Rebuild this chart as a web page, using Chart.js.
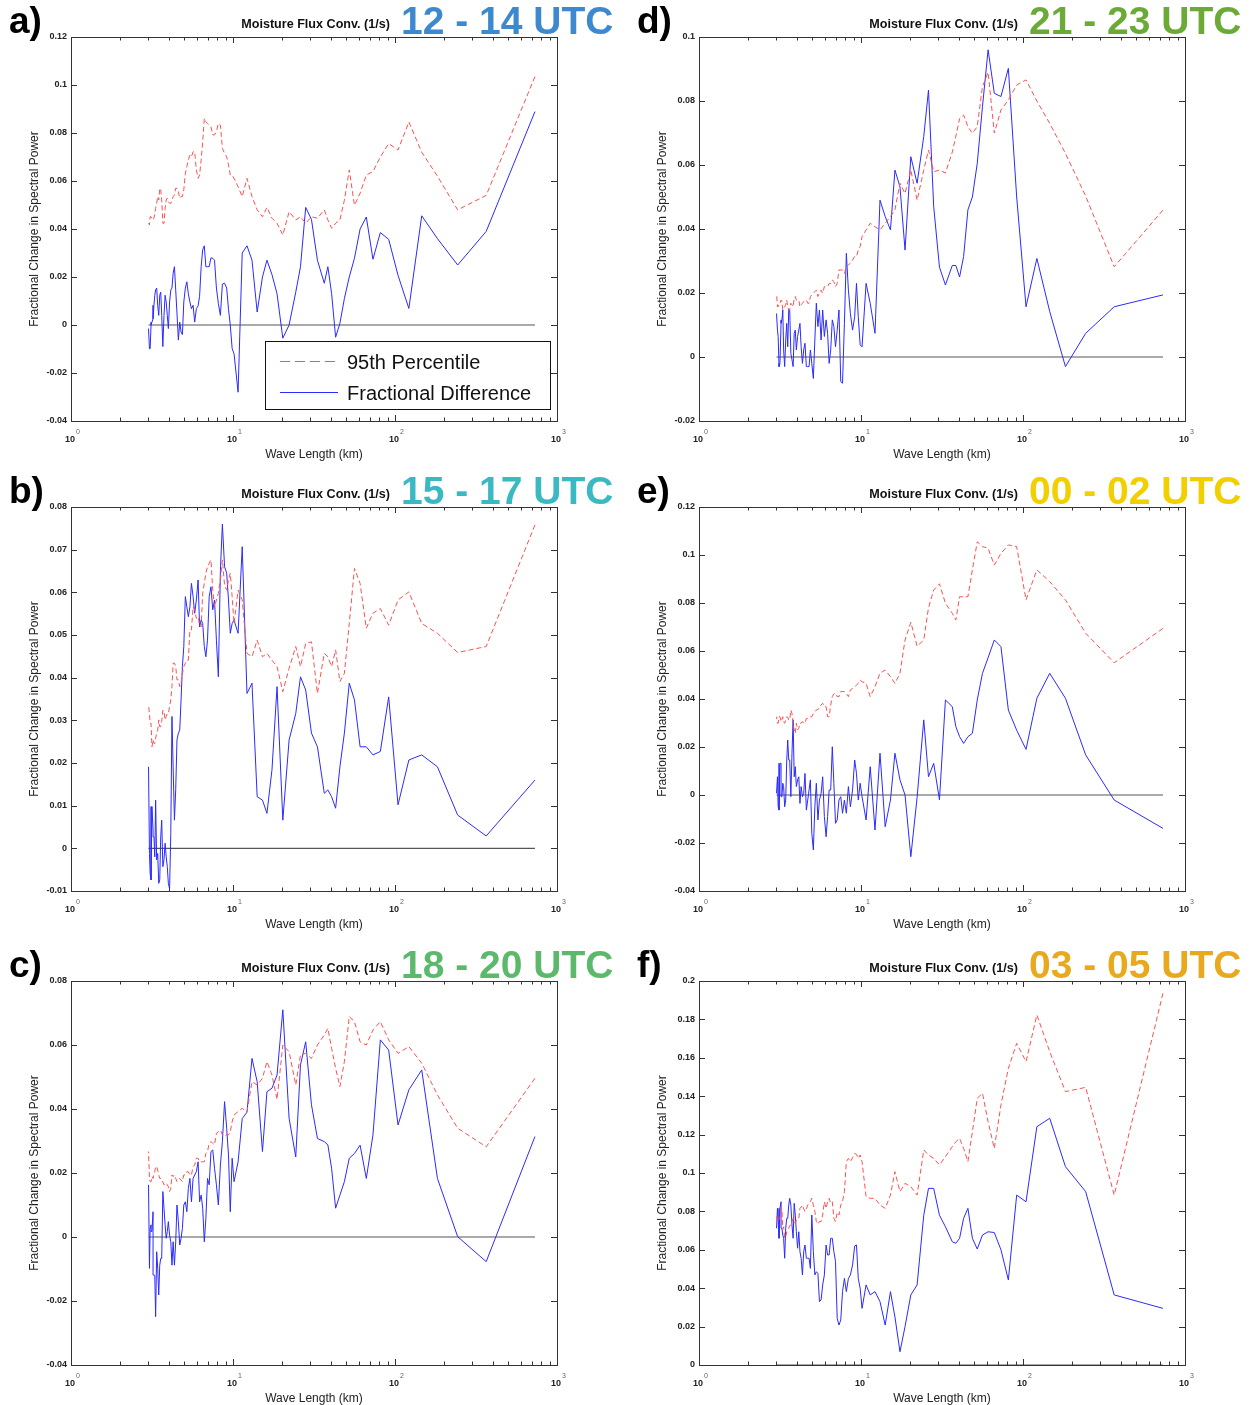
<!DOCTYPE html>
<html>
<head>
<meta charset="utf-8">
<title>Moisture Flux Conv. spectra</title>
<script src="https://cdn.jsdelivr.net/npm/chart.js@4.4.1/dist/chart.umd.min.js"></script>
<style>
    body { margin: 0; background: #fff; }
    #figure { position: relative; width: 1258px; height: 1405px; }
    #figure canvas { position: absolute; }
</style>
</head>
<body>
<div id="figure">
    <canvas id="panelA" width="629" height="470" style="left:0;top:0"></canvas>
    <canvas id="panelD" width="629" height="470" style="left:629px;top:0"></canvas>
    <canvas id="panelB" width="629" height="474" style="left:0;top:470px"></canvas>
    <canvas id="panelE" width="629" height="474" style="left:629px;top:470px"></canvas>
    <canvas id="panelC" width="629" height="461" style="left:0;top:944px"></canvas>
    <canvas id="panelF" width="629" height="461" style="left:629px;top:944px"></canvas>
</div>
<script>
// wave lengths (km), longest first
const waveLength = [731, 365.5, 243.7, 182.8, 146.2, 121.8, 104.4, 91.4, 81.2, 73.1,
    66.5, 60.9, 56.2, 52.2, 48.7, 45.7, 43.0, 40.6, 38.5, 36.6,
    33.2, 30.5, 28.1, 26.1, 24.4, 22.2, 20.3, 18.7, 17.4, 16.2,
    15.2, 14.1, 13.1, 12.2, 11.4, 10.75, 10.15, 9.62, 9.14, 8.6,
    8.12, 7.69, 7.31, 6.96, 6.65, 6.36, 6.09, 5.80, 5.54, 5.30,
    5.08, 4.87, 4.69, 4.51, 4.35, 4.20, 4.06, 3.93, 3.81, 3.69,
    3.58, 3.48, 3.38, 3.29, 3.21, 3.12, 3.05, 3.01];

// extra short wave lengths (km) in between, where the spectra are dense
const waveLengthFine = [9.88, 9.38, 8.87, 8.36, 7.9, 7.5, 7.13, 6.8, 6.5, 6.22,
    5.94, 5.67, 5.42, 5.19, 4.97, 4.78, 4.60, 4.43, 4.27, 4.13,
    3.99, 3.87, 3.75, 3.63, 3.53, 3.43, 3.33, 3.25, 3.16, 3.08];

// 12 - 14 UTC
const pct95A = [0.1035, 0.054, 0.048, 0.062, 0.072, 0.0846, 0.0729, 0.0756, 0.070, 0.0639,
    0.0625, 0.0549, 0.0499, 0.0646, 0.052, 0.0438, 0.0424, 0.0403, 0.0438, 0.048,
    0.0445, 0.0451, 0.0424, 0.0451, 0.0438, 0.0472, 0.0375, 0.0424, 0.0445, 0.049,
    0.0451, 0.048, 0.0535, 0.0611, 0.0535, 0.0576, 0.0611, 0.0625, 0.0701, 0.0736,
    0.084, 0.0792, 0.0826, 0.084, 0.0861, 0.0688, 0.0611, 0.0722, 0.0701, 0.0688,
    0.0632, 0.0535, 0.0528, 0.057, 0.0542, 0.0521, 0.0507, 0.0528, 0.0486, 0.0424,
    0.0563, 0.0521, 0.0507, 0.0465, 0.0438, 0.0451, 0.0417, 0.0424];
const pct95AFine = [0.0625, 0.0667, 0.0715, 0.0833, 0.0806, 0.0792, 0.0833, 0.0847, 0.0763, 0.0625,
    0.0646, 0.0722, 0.0708, 0.066, 0.0563, 0.0535, 0.0556, 0.057, 0.0535, 0.0507,
    0.0514, 0.0521, 0.0424, 0.0521, 0.057, 0.0535, 0.0486, 0.0445, 0.0445, 0.0451];
const diffA = [0.0889, 0.039, 0.025, 0.036, 0.0455, 0.0069, 0.0207, 0.0357, 0.0385, 0.0274,
    0.045, 0.040, 0.0278, 0.020, 0.011, 0.0007, -0.0051, 0.0132, 0.0243, 0.0174,
    0.027, 0.044, 0.049, 0.0243, 0.0137, 0.0, -0.0055, 0.013, 0.021, 0.027,
    0.020, 0.0054, 0.027, 0.033, 0.030, -0.028, -0.012, 0.0, 0.0154, 0.017,
    0.009, 0.027, 0.028, 0.0243, 0.033, 0.0243, 0.008, 0.0012, 0.0068, 0.013,
    0.0154, -0.004, 0.0012, 0.0049, 0.0243, 0.0154, 0.0096, 0.004, 0.0124, -0.009,
    0.0137, 0.004, 0.0154, 0.0124, 0.0026, 0.0, -0.0099, -0.0015];
const diffAFine = [-0.0098, 0.0066, 0.0174, 0.004, 0.0154, 0.0278, 0.0243, 0.0243, 0.0313, 0.012,
    0.0068, 0.0082, 0.0096, 0.018, 0.0096, -0.0029, -0.0063, 0.0146, 0.0215, 0.0146,
    -0.0015, 0.0096, 0.004, 0.004, 0.0124, 0.0082, 0.0146, 0.0082, 0.0012, -0.0099];

// 15 - 17 UTC
const pct95B = [0.0758, 0.0473, 0.0459, 0.0504, 0.0527, 0.0601, 0.0582, 0.0523, 0.0562, 0.0551,
    0.0516, 0.0621, 0.0656, 0.0527, 0.041, 0.0391, 0.0465, 0.0426, 0.0449, 0.0457,
    0.0363, 0.0484, 0.048, 0.0426, 0.0473, 0.0422, 0.0367, 0.0426, 0.0441, 0.0457,
    0.0449, 0.0488, 0.0449, 0.0457, 0.0582, 0.0605, 0.0527, 0.0645, 0.0605, 0.0676,
    0.0598, 0.0566, 0.0676, 0.066, 0.0621, 0.0519, 0.0543, 0.0559, 0.0512, 0.0441,
    0.0434, 0.041, 0.0379, 0.0395, 0.0434, 0.0379, 0.0332, 0.0316, 0.0301, 0.0324,
    0.0285, 0.0301, 0.027, 0.0246, 0.0254, 0.0293, 0.0316, 0.0336];
const pct95BFine = [0.059, 0.0629, 0.0617, 0.0629, 0.0582, 0.0605, 0.0668, 0.0645, 0.0598, 0.0523,
    0.0539, 0.0566, 0.0512, 0.0441, 0.0426, 0.0387, 0.0395, 0.0426, 0.0434, 0.0348,
    0.0316, 0.0309, 0.032, 0.0297, 0.0285, 0.0277, 0.0258, 0.0246, 0.0238, 0.0293];
const diffB = [0.016, 0.0029, 0.0078, 0.0191, 0.0219, 0.0207, 0.0102, 0.0355, 0.0227, 0.0219,
    0.0238, 0.0238, 0.0348, 0.0387, 0.027, 0.0191, 0.0094, 0.0121, 0.0137, 0.0129,
    0.0238, 0.027, 0.0371, 0.0402, 0.0316, 0.0254, 0.0066, 0.0379, 0.0184, 0.0082,
    0.0113, 0.0121, 0.0387, 0.0363, 0.0707, 0.0504, 0.0535, 0.0504, 0.0645, 0.076,
    0.0402, 0.0582, 0.0613, 0.0488, 0.0473, 0.0535, 0.0629, 0.0551, 0.0621, 0.0543,
    0.059, 0.0426, 0.0277, 0.0254, 0.0066, 0.0309, -0.0095, -0.0043, 0.0012, -0.0043,
    0.0027, -0.0082, -0.0027, -0.002, 0.0043, -0.0074, -0.0012, 0.0191];
const diffBFine = [0.0527, 0.0582, 0.066, 0.0652, 0.0488, 0.0559, 0.059, 0.0449, 0.0527, 0.0519,
    0.0582, 0.059, 0.0566, 0.0566, 0.0473, 0.0348, 0.027, 0.0137, 0.0191, 0.0035,
    -0.0082, -0.002, -0.0027, 0.0066, -0.0074, -0.0012, 0.0113, 0.0027, 0.0098, -0.0059];

// 18 - 20 UTC
const pct95C = [0.0496, 0.0282, 0.034, 0.0444, 0.0543, 0.0595, 0.0574, 0.0616, 0.0673, 0.0647,
    0.06, 0.061, 0.0673, 0.0689, 0.0548, 0.047, 0.0527, 0.059, 0.0652, 0.0631,
    0.06, 0.0558, 0.0574, 0.0569, 0.0475, 0.0579, 0.06, 0.043, 0.0506, 0.0548,
    0.0496, 0.0475, 0.0485, 0.0392, 0.0402, 0.0392, 0.0381, 0.0329, 0.0319, 0.0319,
    0.0329, 0.0288, 0.0298, 0.0267, 0.0235, 0.0235, 0.0246, 0.0225, 0.0194, 0.0204,
    0.0194, 0.0173, 0.0183, 0.0173, 0.0194, 0.0194, 0.0142, 0.0163, 0.0163, 0.0173,
    0.0183, 0.0194, 0.022, 0.0204, 0.0183, 0.0173, 0.0183, 0.0267];
const pct95CFine = [0.036, 0.0319, 0.0314, 0.0334, 0.0324, 0.0293, 0.0293, 0.0261, 0.0235, 0.0235,
    0.0246, 0.022, 0.0194, 0.0204, 0.0194, 0.0178, 0.0178, 0.0183, 0.0189, 0.0152,
    0.0157, 0.0168, 0.0163, 0.0173, 0.0183, 0.0209, 0.022, 0.0199, 0.0189, 0.0173];
const diffC = [0.0314, -0.0077, 0.0001, 0.0183, 0.0522, 0.046, 0.035, 0.0584, 0.0616, 0.0319,
    0.0183, 0.0287, 0.0261, 0.0246, 0.0173, 0.0131, 0.009, 0.0215, 0.0288, 0.0298,
    0.0308, 0.0413, 0.061, 0.0538, 0.025, 0.0371, 0.071, 0.0506, 0.0465, 0.0454,
    0.0267, 0.0485, 0.0558, 0.039, 0.037, 0.0235, 0.0173, 0.0079, 0.034, 0.0298,
    0.01, 0.0215, 0.0267, 0.0183, -0.0015, 0.0131, 0.0235, 0.0194, 0.011, 0.0152,
    0.011, 0.0027, -0.0025, 0.01, -0.0088, -0.0088, 0.0006, 0.0017, 0.0038, 0.0142,
    -0.0067, -0.0181, -0.0046, -0.012, 0.0079, 0.0038, -0.0098, 0.0163];
const diffCFine = [0.0246, 0.0256, 0.0423, 0.0225, 0.0163, 0.0272, 0.0163, 0.0058, 0.009, 0.011,
    0.0204, 0.0183, 0.0183, 0.0079, 0.01, -0.0004, 0.0048, -0.0015, -0.0015, -0.0015,
    0.0048, -0.0004, 0.009, -0.0067, -0.0088, -0.0098, -0.0249, -0.0119, 0.0017, 0.0027];

// 21 - 23 UTC
const pct95D = [0.0459, 0.0282, 0.0503, 0.0636, 0.073, 0.080, 0.0866, 0.085, 0.0803, 0.0772,
    0.070, 0.089, 0.0845, 0.072, 0.0699, 0.072, 0.0756, 0.0745, 0.069, 0.064,
    0.0575, 0.0584, 0.0579, 0.0647, 0.0584, 0.049, 0.0584, 0.0511, 0.0543, 0.046,
    0.0439, 0.0418, 0.0397, 0.0407, 0.0418, 0.0397, 0.0376, 0.0334, 0.0314, 0.0293,
    0.0282, 0.0272, 0.0272, 0.022, 0.0241, 0.023, 0.022, 0.0199, 0.0199, 0.0209,
    0.0199, 0.0189, 0.0168, 0.0178, 0.0168, 0.0157, 0.0178, 0.0189, 0.0157, 0.0168,
    0.0147, 0.0178, 0.0157, 0.0147, 0.0178, 0.0168, 0.0157, 0.0199];
const pct95DFine = [0.0345, 0.0314, 0.0303, 0.0288, 0.0261, 0.0272, 0.023, 0.0235, 0.023, 0.022,
    0.022, 0.0209, 0.0189, 0.0204, 0.0194, 0.0168, 0.0178, 0.0173, 0.0163, 0.0178,
    0.0178, 0.0183, 0.0163, 0.0147, 0.0157, 0.0163, 0.0152, 0.0173, 0.0168, 0.0157];
const diffD = [0.0194, 0.0157, 0.0074, -0.003, 0.0142, 0.0308, 0.0157, 0.05, 0.0902, 0.0814,
    0.0824, 0.096, 0.0782, 0.0605, 0.05, 0.046, 0.0314, 0.025, 0.0286, 0.0286,
    0.0225, 0.0281, 0.047, 0.0834, 0.0689, 0.0543, 0.0626, 0.0334, 0.0532, 0.0584,
    0.0397, 0.0439, 0.049, 0.0074, 0.0168, 0.023, 0.0032, 0.0126, 0.0126, 0.0136,
    0.0324, -0.0082, 0.0147, 0.0032, 0.0116, -0.002, 0.0116, 0.0147, 0.0147, 0.0168,
    -0.0067, 0.0022, -0.003, 0.0043, -0.002, 0.0105, 0.0064, 0.0084, -0.003, 0.0011,
    0.0147, 0.0105, -0.003, 0.0147, 0.0105, -0.003, 0.0084, 0.0136];
const diffDFine = [0.0038, 0.023, 0.0084, 0.0209, 0.0105, -0.0077, 0.0084, 0.0095, 0.0022, 0.0074,
    0.0064, 0.0053, 0.0095, 0.0053, -0.002, -0.003, -0.003, 0.0022, 0.0032, 0.0084,
    0.0022, 0.0074, -0.0009, 0.0147, 0.0032, 0.0053, 0.0022, 0.0116, -0.002, 0.0064];

// 00 - 02 UTC
const pct95E = [0.0694, 0.0551, 0.0674, 0.0813, 0.0889, 0.0938, 0.0813, 0.1035, 0.1042, 0.1007,
    0.0958, 0.1028, 0.1035, 0.1055, 0.0938, 0.0826, 0.0826, 0.0826, 0.0729, 0.0757,
    0.0799, 0.088, 0.0854, 0.078, 0.0646, 0.062, 0.072, 0.0646, 0.0507, 0.0465,
    0.0493, 0.0521, 0.0507, 0.0451, 0.041, 0.0465, 0.0472, 0.0465, 0.0451, 0.0438,
    0.0424, 0.0431, 0.041, 0.0424, 0.041, 0.0326, 0.0368, 0.0382, 0.0361, 0.0354,
    0.034, 0.0326, 0.0319, 0.0299, 0.0306, 0.0299, 0.0271, 0.0257, 0.0299, 0.0354,
    0.0313, 0.0326, 0.0299, 0.0326, 0.0306, 0.0326, 0.0299, 0.0326];
const pct95EFine = [0.0479, 0.0458, 0.0444, 0.041, 0.0431, 0.0431, 0.041, 0.0421, 0.0375, 0.0326,
    0.0368, 0.0375, 0.0357, 0.0347, 0.0326, 0.0326, 0.0319, 0.0299, 0.0299, 0.0278,
    0.0299, 0.0271, 0.034, 0.0313, 0.0324, 0.0313, 0.0306, 0.0313, 0.0326, 0.0299];
const diffE = [-0.0139, -0.0021, 0.0167, 0.0403, 0.0507, 0.0403, 0.019, 0.027, 0.0354, 0.0618,
    0.0646, 0.0572, 0.0507, 0.0396, 0.0257, 0.0243, 0.0215, 0.0243, 0.0285, 0.0368,
    0.0396, -0.002, 0.0132, 0.0076, 0.0313, -0.001, -0.0257, 0.0, 0.0063, 0.0174,
    -0.0021, -0.0132, 0.0174, -0.0146, 0.0118, -0.0104, -0.0007, -0.0021, 0.0146, -0.0049,
    -0.0076, -0.0076, -0.0021, -0.0118, 0.0201, 0.0021, -0.0174, 0.0076, -0.0021, 0.0049,
    -0.0229, 0.0063, -0.0021, 0.009, -0.0007, -0.0035, 0.0063, 0.0118, 0.0313, -0.0007,
    0.0146, 0.0146, -0.0049, 0.0049, 0.0132, -0.0063, 0.0076, 0.0007];
const diffEFine = [0.0049, 0.009, 0.0021, 0.0035, -0.0021, -0.0007, -0.0104, 0.0049, 0.0021, -0.009,
    -0.009, 0.0007, -0.0104, -0.0049, -0.016, 0.0021, -0.0063, 0.0007, 0.0035, 0.0076,
    0.0035, 0.0076, 0.0174, 0.0146, 0.0229, -0.0021, 0.0035, -0.0007, 0.0132, -0.0049];

// 03 - 05 UTC
const pct95F = [0.1936, 0.0885, 0.1446, 0.1424, 0.1632, 0.1823, 0.158, 0.1675, 0.1545, 0.1354,
    0.1128, 0.1267, 0.1415, 0.1389, 0.1215, 0.1059, 0.1128, 0.118, 0.1163, 0.1137,
    0.1085, 0.1042, 0.1076, 0.1094, 0.112, 0.0885, 0.0929, 0.0946, 0.0903, 0.1007,
    0.0885, 0.0816, 0.0833, 0.0868, 0.0868, 0.0877, 0.1059, 0.1076, 0.1102, 0.1059,
    0.1059, 0.085, 0.0781, 0.0747, 0.085, 0.0868, 0.0816, 0.0781, 0.0747, 0.0747,
    0.0833, 0.085, 0.0833, 0.0799, 0.0833, 0.0816, 0.0755, 0.0738, 0.0764, 0.0729,
    0.0712, 0.0694, 0.066, 0.0712, 0.0816, 0.0764, 0.0747, 0.0781];
const pct95FFine = [0.1094, 0.1097, 0.108, 0.1076, 0.0903, 0.0833, 0.0795, 0.0764, 0.0842, 0.085,
    0.085, 0.0747, 0.0733, 0.0799, 0.0868, 0.0844, 0.0813, 0.0813, 0.0823, 0.0764,
    0.0753, 0.0747, 0.0747, 0.0726, 0.0698, 0.0668, 0.072, 0.0806, 0.0764, 0.0747];
const diffF = [0.0295, 0.0365, 0.0903, 0.1033, 0.1285, 0.1241, 0.085, 0.0885, 0.0443, 0.060,
    0.069, 0.0694, 0.0677, 0.0604, 0.066, 0.0816, 0.0764, 0.066, 0.0634, 0.0642,
    0.072, 0.078, 0.092, 0.092, 0.078, 0.0417, 0.0365, 0.020, 0.0069, 0.025,
    0.0382, 0.0208, 0.033, 0.0382, 0.0365, 0.0417, 0.0295, 0.045, 0.062, 0.0469,
    0.0382, 0.0382, 0.0208, 0.054, 0.066, 0.0573, 0.0625, 0.0417, 0.033, 0.0486,
    0.059, 0.0503, 0.0556, 0.0625, 0.0469, 0.059, 0.0608, 0.0781, 0.066, 0.0833,
    0.0833, 0.0764, 0.0556, 0.0677, 0.085, 0.066, 0.0816, 0.0712];
const diffFFine = [0.04, 0.0625, 0.0521, 0.0451, 0.0451, 0.0234, 0.0243, 0.059, 0.066, 0.0573,
    0.0469, 0.0339, 0.0477, 0.0469, 0.0781, 0.0556, 0.0556, 0.059, 0.0556, 0.0694,
    0.0694, 0.0842, 0.0729, 0.0868, 0.0764, 0.0712, 0.066, 0.0712, 0.0816, 0.0747];

// axis ticks
const xTicks = [1, 10, 100, 1000];
const yTicksA = [-0.04, -0.02, 0, 0.02, 0.04, 0.06, 0.08, 0.1, 0.12];
const yTicksB = [-0.01, 0, 0.01, 0.02, 0.03, 0.04, 0.05, 0.06, 0.07, 0.08];
const yTicksC = [-0.04, -0.02, 0, 0.02, 0.04, 0.06, 0.08];
const yTicksD = [-0.02, 0, 0.02, 0.04, 0.06, 0.08, 0.1];
const yTicksE = [-0.04, -0.02, 0, 0.02, 0.04, 0.06, 0.08, 0.1, 0.12];
const yTicksF = [0, 0.02, 0.04, 0.06, 0.08, 0.1, 0.12, 0.14, 0.16, 0.18, 0.2];

const FONT = "'Liberation Sans', Arial, Helvetica, sans-serif";

function tickText(v) {
    return v === 0 ? '0' : String(+v.toFixed(2));
}

// matlab-like box axes: inward ticks on all four sides, log minor ticks, labels and titles
const matlabAxes = {
    id: 'matlabAxes',
    afterDraw(chart, args, opts) {
        const ctx = chart.ctx;
        const { left, right, top, bottom } = chart.chartArea;
        const xs = chart.scales.x, ys = chart.scales.y;
        ctx.save();

        ctx.strokeStyle = '#333';
        ctx.lineWidth = 1;
        ctx.beginPath();
        for (let d = 1; d < 1000; d *= 10) {
            for (let m = 2; m <= 9; m++) {
                const px = Math.round(xs.getPixelForValue(d * m)) + 0.5;
                ctx.moveTo(px, bottom); ctx.lineTo(px, bottom - 3.5);
                ctx.moveTo(px, top); ctx.lineTo(px, top + 3.5);
            }
        }
        xTicks.forEach(v => {
            const px = Math.round(xs.getPixelForValue(v)) + 0.5;
            ctx.moveTo(px, bottom); ctx.lineTo(px, bottom - 6);
            ctx.moveTo(px, top); ctx.lineTo(px, top + 6);
        });
        opts.yTicks.forEach(v => {
            const py = Math.round(ys.getPixelForValue(v)) + 0.5;
            ctx.moveTo(left, py); ctx.lineTo(left + 6, py);
            ctx.moveTo(right, py); ctx.lineTo(right - 6, py);
        });
        ctx.stroke();
        ctx.strokeRect(left + 0.5, top + 0.5, right - left, bottom - top);

        // y tick labels
        ctx.fillStyle = '#222';
        ctx.font = 'bold 9px ' + FONT;
        ctx.textAlign = 'right';
        ctx.textBaseline = 'middle';
        opts.yTicks.forEach(v => {
            ctx.fillText(tickText(v), left - 4, ys.getPixelForValue(v));
        });

        // x tick labels as 10 with a raised exponent
        ctx.textBaseline = 'alphabetic';
        xTicks.forEach((v, i) => {
            const px = xs.getPixelForValue(v);
            ctx.font = 'bold 9px ' + FONT;
            ctx.textAlign = 'right';
            ctx.fillStyle = '#222';
            ctx.fillText('10', px + 4, bottom + 21);
            ctx.font = '7px ' + FONT;
            ctx.textAlign = 'left';
            ctx.fillStyle = '#666';
            ctx.fillText(String(i), px + 5, bottom + 13);
        });

        // axis titles
        ctx.fillStyle = '#222';
        ctx.font = '12px ' + FONT;
        ctx.textAlign = 'center';
        ctx.fillText('Wave Length (km)', (left + right) / 2, bottom + 37);
        ctx.save();
        ctx.translate(left - 36, (top + bottom) / 2);
        ctx.rotate(-Math.PI / 2);
        ctx.textBaseline = 'middle';
        ctx.fillText('Fractional Change in Spectral Power', 0, 0);
        ctx.restore();

        // panel letter and title
        ctx.fillStyle = '#000';
        ctx.textAlign = 'left';
        ctx.font = 'bold 37px ' + FONT;
        ctx.fillText(opts.letter, left - 62, 33);
        ctx.font = 'bold 12.6px ' + FONT;
        ctx.textAlign = 'right';
        ctx.fillStyle = '#111';
        ctx.fillText('Moisture Flux Conv. (1/s)', left + 319, 28);
        ctx.font = 'bold 39px ' + FONT;
        ctx.textAlign = 'left';
        ctx.fillStyle = opts.color;
        ctx.fillText(opts.hours, left + 330, 34);

        if (opts.legend) {
            const sets = chart.data.datasets;
            const bx = left + 194, by = top + 304, bw = 285, bh = 68;
            ctx.fillStyle = '#fff';
            ctx.fillRect(bx, by, bw, bh);
            ctx.strokeStyle = '#111';
            ctx.lineWidth = 1;
            ctx.strokeRect(bx + 0.5, by + 0.5, bw, bh);
            ctx.font = '20px ' + FONT;
            ctx.textBaseline = 'middle';
            [0, 1].forEach(i => {
                const ly = by + 20 + i * 31;
                ctx.strokeStyle = sets[i].borderColor;
                ctx.lineWidth = 1.2;
                ctx.setLineDash(i === 0 ? [10, 5] : []);
                ctx.beginPath();
                ctx.moveTo(bx + 15, ly + 0.5);
                ctx.lineTo(bx + 73, ly + 0.5);
                ctx.stroke();
                ctx.setLineDash([]);
                ctx.fillStyle = '#111';
                ctx.fillText(sets[i].label, bx + 82, ly + 2);
            });
        }
        ctx.restore();
    }
};

// join the coarse and fine samples into one line, longest wave length first
function series(values, fineValues) {
    return waveLength.map((w, i) => ({ x: w, y: values[i] }))
        .concat(waveLengthFine.map((w, i) => ({ x: w, y: fineValues[i] })))
        .sort((a, b) => b.x - a.x);
}

const panels = [
    { id: 'panelA', letter: 'a)', hours: '12 - 14 UTC', color: '#3d89cf', pct: pct95A, pctFine: pct95AFine, diff: diffA, diffFine: diffAFine, yTicks: yTicksA, col: 0, h: 470, legend: true },
    { id: 'panelB', letter: 'b)', hours: '15 - 17 UTC', color: '#3bb9c3', pct: pct95B, pctFine: pct95BFine, diff: diffB, diffFine: diffBFine, yTicks: yTicksB, col: 0, h: 474 },
    { id: 'panelC', letter: 'c)', hours: '18 - 20 UTC', color: '#5cb96c', pct: pct95C, pctFine: pct95CFine, diff: diffC, diffFine: diffCFine, yTicks: yTicksC, col: 0, h: 461 },
    { id: 'panelD', letter: 'd)', hours: '21 - 23 UTC', color: '#6caa37', pct: pct95D, pctFine: pct95DFine, diff: diffD, diffFine: diffDFine, yTicks: yTicksD, col: 1, h: 470 },
    { id: 'panelE', letter: 'e)', hours: '00 - 02 UTC', color: '#f1cf00', pct: pct95E, pctFine: pct95EFine, diff: diffE, diffFine: diffEFine, yTicks: yTicksE, col: 1, h: 474 },
    { id: 'panelF', letter: 'f)', hours: '03 - 05 UTC', color: '#e9a91e', pct: pct95F, pctFine: pct95FFine, diff: diffF, diffFine: diffFFine, yTicks: yTicksF, col: 1, h: 461 }
];

panels.forEach(p => {
    const padLeft = p.col === 0 ? 71 : 70;
    new Chart(document.getElementById(p.id), {
        type: 'line',
        data: {
            datasets: [{
                label: '95th Percentile',
                data: series(p.pct, p.pctFine),
                borderColor: '#ff5050',
                borderWidth: 1,
                borderDash: [5, 3],
                pointRadius: 0,
                tension: 0
            }, {
                label: 'Fractional Difference',
                data: series(p.diff, p.diffFine),
                borderColor: '#2a2aff',
                borderWidth: 1,
                pointRadius: 0,
                tension: 0
            }, {
                label: 'zero',
                data: [{ x: waveLength[waveLength.length - 1], y: 0 }, { x: waveLength[0], y: 0 }],
                borderColor: '#555',
                borderWidth: 1.2,
                pointRadius: 0
            }]
        },
        options: {
            responsive: false,
            animation: false,
            devicePixelRatio: 1,
            layout: {
                padding: { left: padLeft, right: 629 - padLeft - 486, top: 37, bottom: p.h - 421 }
            },
            scales: {
                x: { type: 'logarithmic', min: 1, max: 1000, display: false },
                y: { type: 'linear', min: p.yTicks[0], max: p.yTicks[p.yTicks.length - 1], display: false }
            },
            plugins: {
                legend: { display: false },
                tooltip: { enabled: false },
                matlabAxes: { letter: p.letter, hours: p.hours, color: p.color, yTicks: p.yTicks, legend: !!p.legend }
            }
        },
        plugins: [matlabAxes]
    });
});
</script>
</body>
</html>
